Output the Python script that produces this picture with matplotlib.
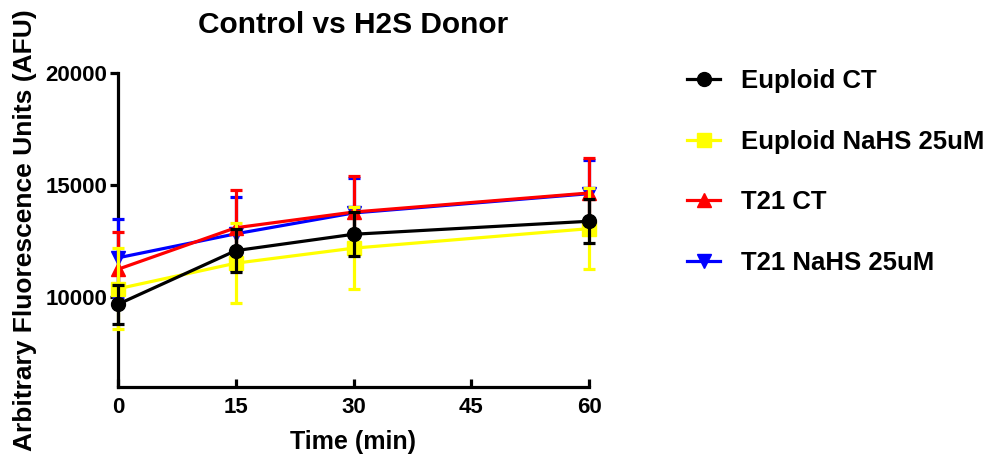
import matplotlib
matplotlib.use("Agg")
import matplotlib.pyplot as plt
from matplotlib.lines import Line2D

plt.rcParams["font.family"] = ["Liberation Sans", "DejaVu Sans"]
plt.rcParams["font.weight"] = "bold"

time = [0, 15, 30, 60]
labels = ["Euploid CT", "Euploid NaHS 25uM", "T21 CT", "T21 NaHS 25uM"]
means = [
    [9690, 12080, 12810, 13390],
    [10380, 11520, 12190, 13060],
    [11250, 13100, 13800, 14650],
    [11760, 12830, 13760, 14620],
]
errs = [
    [870, 960, 980, 980],
    [1800, 1780, 1830, 1800],
    [1650, 1700, 1600, 1560],
    [1730, 1630, 1560, 1500],
]
colors = ["black", "#ffff00", "#ff0000", "#0000ff"]
markers = ["o", "s", "^", "v"]

fig = plt.figure(figsize=(9.92, 4.63), dpi=100)
ax = fig.add_axes([118 / 992, 76 / 463, 471 / 992, 314 / 463])

# draw last series first so Euploid CT ends up on top
for i in [3, 2, 1, 0]:
    ax.errorbar(time, means[i], yerr=errs[i], color=colors[i], marker=markers[i],
                markersize=10, lw=2.3, elinewidth=2.3, capsize=4.5, capthick=2.3,
                clip_on=False, zorder=3 + (3 - i))

ax.set_xlim(0, 60)
ax.set_ylim(6000, 20000)
ax.set_xticks([0, 15, 30, 45, 60])
ax.set_yticks([10000, 15000, 20000])
for s in ["top", "right"]:
    ax.spines[s].set_visible(False)
for s in ["left", "bottom"]:
    ax.spines[s].set_linewidth(2.3)
ax.tick_params(width=2.3, length=6, labelsize=16)
ax.tick_params(axis="x", direction="in", pad=7)
ax.tick_params(axis="y", pad=1.5)
ax.set_xlabel("Time (min)", fontsize=18, fontweight="bold", labelpad=9)
ax.set_ylabel("Arbitrary Fluorescence Units (AFU)", fontsize=19, fontweight="bold", labelpad=6)
ax.set_title("Control vs H2S Donor", fontsize=21.5, fontweight="bold", pad=29)

handles = [Line2D([], [], color=colors[i], marker=markers[i], lw=2.3, markersize=10)
           for i in range(4)]
fig.legend(handles, labels, loc="upper left",
           bbox_to_anchor=(664 / 992, 1 - 46 / 463), frameon=False, fontsize=18.5,
           handlelength=1.28, handletextpad=0.82, labelspacing=1.42)

fig.savefig("out.png", dpi=100)
